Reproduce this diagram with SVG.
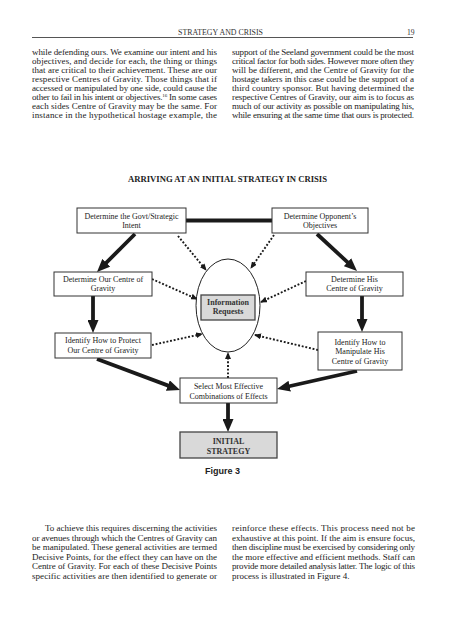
<svg xmlns="http://www.w3.org/2000/svg" width="450" height="640" viewBox="0 0 450 640">
<style>
.body{font-family:"Liberation Serif","Times New Roman",serif;font-size:9px;fill:#222}
.hdr{font-family:"Liberation Serif","Times New Roman",serif;font-size:7.6px;fill:#333}
.lbl{font-family:"Liberation Serif","Times New Roman",serif;font-size:8px;fill:#222;text-anchor:middle}
.blbl{font-family:"Liberation Serif","Times New Roman",serif;font-size:8px;font-weight:bold;fill:#333;text-anchor:middle}
.box{fill:#fff;stroke:#333;stroke-width:1}
.gbox{fill:#d9d9d9;stroke:#444;stroke-width:1.3}
.thick{stroke:#1a1a1a;stroke-width:3.8;fill:none}
.dot{stroke:#1a1a1a;stroke-width:1.9;stroke-dasharray:1.9 1.8;fill:none}
</style>
<defs>
<marker id="ah" markerUnits="userSpaceOnUse" markerWidth="13" markerHeight="11" refX="4" refY="5.5" orient="auto">
<path d="M0,0 L13,5.5 L0,11 z" fill="#1a1a1a"/>
</marker>
<marker id="dh" markerUnits="userSpaceOnUse" markerWidth="7" markerHeight="6" refX="6" refY="3" orient="auto">
<path d="M0,0 L7,3 L0,6 z" fill="#1a1a1a"/>
</marker>
</defs>
<rect width="450" height="640" fill="#fff"/>

<g id="header">
<text class="hdr" x="178" y="34.5" textLength="85" lengthAdjust="spacingAndGlyphs">STRATEGY AND CRISIS</text>
<text class="hdr" x="407" y="35" font-size="8.5">19</text>
<line x1="32" y1="37.5" x2="413" y2="37.5" stroke="#555" stroke-width="1.2"/>
</g>

<g id="text-top" class="body">
<text x="32" y="55" textLength="185" lengthAdjust="spacing">while defending ours. We examine our intent and his</text>
<text x="32" y="64" textLength="185" lengthAdjust="spacing">objectives, and decide for each, the thing or things</text>
<text x="32" y="73" textLength="185" lengthAdjust="spacing">that are critical to their achievement. These are our</text>
<text x="32" y="82" textLength="185" lengthAdjust="spacing">respective Centres of Gravity. Those things that if</text>
<text x="32" y="91" textLength="185" lengthAdjust="spacing">accessed or manipulated by one side, could cause the</text>
<text x="32" y="100" textLength="185" lengthAdjust="spacing">other to fail in his intent or objectives.<tspan font-size="5" dy="-3">16</tspan><tspan dy="3"> In some cases</tspan></text>
<text x="32" y="109" textLength="185" lengthAdjust="spacing">each sides Centre of Gravity may be the same. For</text>
<text x="32" y="118" textLength="185" lengthAdjust="spacing">instance in the hypothetical hostage example, the</text>
<text x="232" y="55" textLength="182" lengthAdjust="spacing">support of the Seeland government could be the most</text>
<text x="232" y="64" textLength="182" lengthAdjust="spacing">critical factor for both sides. However more often they</text>
<text x="232" y="73" textLength="182" lengthAdjust="spacing">will be different, and the Centre of Gravity for the</text>
<text x="232" y="82" textLength="182" lengthAdjust="spacing">hostage takers in this case could be the support of a</text>
<text x="232" y="91" textLength="182" lengthAdjust="spacing">third country sponsor. But having determined the</text>
<text x="232" y="100" textLength="182" lengthAdjust="spacing">respective Centres of Gravity, our aim is to focus as</text>
<text x="232" y="109" textLength="182" lengthAdjust="spacing">much of our activity as possible on manipulating his,</text>
<text x="232" y="118" textLength="182" lengthAdjust="spacing">while ensuring at the same time that ours is protected.</text>
</g>

<g id="title">
<text x="128" y="182" textLength="199" lengthAdjust="spacingAndGlyphs" font-family="Liberation Serif, Times New Roman, serif" font-size="8px" font-weight="bold" fill="#222">ARRIVING AT AN INITIAL STRATEGY IN CRISIS</text>
</g>

<g id="connectors">
<line class="thick" x1="186" y1="220.5" x2="272" y2="220.5"/>
<line class="thick" x1="135" y1="234" x2="103.4" y2="265.6" marker-end="url(#ah)"/>
<line class="thick" x1="317" y1="234" x2="350.4" y2="264.9" marker-end="url(#ah)"/>
<line class="thick" x1="93" y1="296" x2="93" y2="324" marker-end="url(#ah)"/>
<line class="thick" x1="362" y1="296" x2="362" y2="323" marker-end="url(#ah)"/>
<line class="thick" x1="97" y1="359" x2="171.6" y2="386.9" marker-end="url(#ah)"/>
<line class="thick" x1="357" y1="371" x2="285.8" y2="387" marker-end="url(#ah)"/>
<line class="thick" x1="228" y1="403" x2="228" y2="423" marker-end="url(#ah)"/>
<line class="dot" x1="178" y1="236" x2="206" y2="270" marker-end="url(#dh)"/>
<line class="dot" x1="274" y1="235" x2="251" y2="268" marker-end="url(#dh)"/>
<line class="dot" x1="152" y1="279" x2="197" y2="299" marker-end="url(#dh)"/>
<line class="dot" x1="306" y1="281" x2="261" y2="302" marker-end="url(#dh)"/>
<line class="dot" x1="152" y1="345" x2="202" y2="334" marker-end="url(#dh)"/>
<line class="dot" x1="318" y1="350" x2="255" y2="335" marker-end="url(#dh)"/>
<line class="dot" x1="228" y1="378" x2="228" y2="353" marker-end="url(#dh)"/>
</g>

<g id="govt">
<rect class="box" x="77" y="208" width="109" height="25"/>
<text class="lbl" x="131.5" y="218.5">Determine the Govt/Strategic</text>
<text class="lbl" x="131.5" y="228">Intent</text>
</g>
<g id="opponent">
<rect class="box" x="272" y="208" width="96" height="25"/>
<text class="lbl" x="320" y="218.5">Determine Opponent’s</text>
<text class="lbl" x="320" y="228">Objectives</text>
</g>
<g id="our-cog">
<rect class="box" x="54" y="272" width="98" height="24"/>
<text class="lbl" x="103" y="281.5">Determine Our Centre of</text>
<text class="lbl" x="103" y="291">Gravity</text>
</g>
<g id="his-cog">
<rect class="box" x="306" y="272" width="97" height="24"/>
<text class="lbl" x="354.5" y="281.5">Determine His</text>
<text class="lbl" x="354.5" y="291">Centre of Gravity</text>
</g>
<g id="info">
<ellipse cx="228" cy="305.5" rx="32" ry="46.5" fill="#fff" stroke="#222" stroke-width="1"/>
<rect class="gbox" x="201" y="295" width="54" height="25"/>
<text class="blbl" x="228" y="304.5">Information</text>
<text class="blbl" x="228" y="314">Requests</text>
</g>
<g id="protect">
<rect class="box" x="55" y="333" width="96" height="25"/>
<text class="lbl" x="103" y="343">Identify How to Protect</text>
<text class="lbl" x="103" y="352.5">Our Centre of Gravity</text>
</g>
<g id="manipulate">
<rect class="box" x="318" y="332" width="84" height="38"/>
<text class="lbl" x="360" y="344.5">Identify How to</text>
<text class="lbl" x="360" y="354">Manipulate His</text>
<text class="lbl" x="360" y="363.5">Centre of Gravity</text>
</g>
<g id="select">
<rect class="box" x="180" y="378" width="97" height="25"/>
<text class="lbl" x="228.5" y="389">Select Most Effective</text>
<text class="lbl" x="228.5" y="398.5">Combinations of Effects</text>
</g>
<g id="initial">
<rect class="gbox" x="180" y="432" width="97" height="26"/>
<text class="blbl" x="228.5" y="443.5">INITIAL</text>
<text class="blbl" x="228.5" y="453.5">STRATEGY</text>
</g>
<g id="caption">
<text x="222.5" y="473.5" text-anchor="middle" font-family="Liberation Sans, Arial, sans-serif" font-size="9px" font-weight="bold" fill="#222">Figure 3</text>
</g>

<g id="text-bottom" class="body">
<text x="45" y="531" textLength="172" lengthAdjust="spacing">To achieve this requires discerning the activities</text>
<text x="32" y="540.5" textLength="185" lengthAdjust="spacing">or avenues through which the Centres of Gravity can</text>
<text x="32" y="550" textLength="185" lengthAdjust="spacing">be manipulated. These general activities are termed</text>
<text x="32" y="559.5" textLength="185" lengthAdjust="spacing">Decisive Points, for the effect they can have on the</text>
<text x="32" y="569" textLength="185" lengthAdjust="spacing">Centre of Gravity. For each of these Decisive Points</text>
<text x="32" y="578.5" textLength="185" lengthAdjust="spacing">specific activities are then identified to generate or</text>
<text x="232" y="531" textLength="183" lengthAdjust="spacing">reinforce these effects. This process need not be</text>
<text x="232" y="540.5" textLength="183" lengthAdjust="spacing">exhaustive at this point. If the aim is ensure focus,</text>
<text x="232" y="550" textLength="183" lengthAdjust="spacing">then discipline must be exercised by considering only</text>
<text x="232" y="559.5" textLength="183" lengthAdjust="spacing">the more effective and efficient methods. Staff can</text>
<text x="232" y="569" textLength="183" lengthAdjust="spacing">provide more detailed analysis latter. The logic of this</text>
<text x="232" y="578.5">process is illustrated in Figure 4.</text>
</g>
</svg>
